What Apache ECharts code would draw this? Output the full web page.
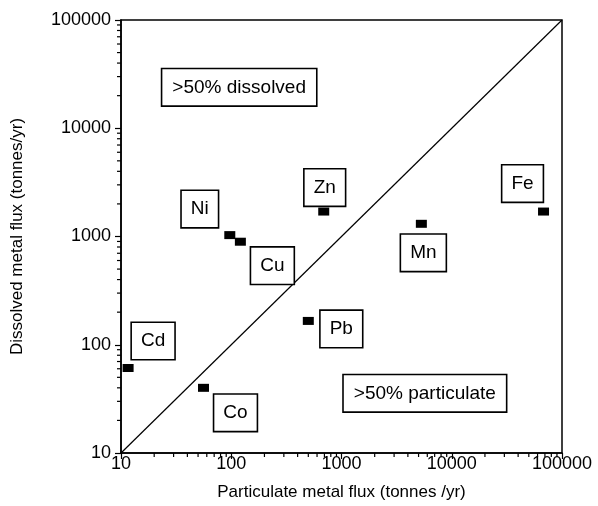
<!DOCTYPE html>
<html>
<head>
<meta charset="utf-8">
<script src="https://cdn.jsdelivr.net/npm/echarts@6/dist/echarts.min.js"></script>
<style>html,body{margin:0;padding:0;background:#fff}#c{width:598px;height:506px}</style>
</head>
<body>
<div id="c"></div>
<script>
// ---- data ----
const metals = ['Cd', 'Co', 'Ni', 'Cu', 'Zn', 'Pb', 'Mn', 'Fe'];
const particulateFlux = [11.6, 56, 97, 121, 690, 500, 5300, 68000];
const dissolvedFlux = [61, 40, 1030, 895, 1700, 166, 1310, 1700];
const xTicks = [10, 100, 1000, 10000, 100000];
const yTicks = [10, 100, 1000, 10000, 100000];
const regionTexts = ['>50% dissolved', '>50% particulate'];
const regionX = [118, 5700];
const regionY = [23900, 35.6];
const oneToOne = [10, 100000];

// ---- layout / style ----
const labelOffsets = {
  Cd: [25, -27], Co: [32, 25], Ni: [-30, -26], Cu: [32, 24],
  Zn: [1, -24], Pb: [33, 8], Mn: [2, 29], Fe: [-21, -28]
};
const FONT = 'Liberation Sans, Arial, Helvetica, sans-serif';
const boxLabel = {
  show: true, position: 'inside', color: '#000', fontFamily: FONT, fontSize: 19,
  backgroundColor: '#fff', borderColor: '#000', borderWidth: 1.6,
  padding: [9, 9, 8, 9], lineHeight: 19,
  formatter: p => p.name
};

const pointData = metals.map((m, i) => ({
  name: m, value: [particulateFlux[i], dissolvedFlux[i]],
  label: { offset: labelOffsets[m] }
}));
const regionData = regionTexts.map((t, i) => ({ name: t, value: [regionX[i], regionY[i]] }));

const minorVals = [];
for (let d = 0; d < xTicks.length - 1; d++) {
  for (let k = 2; k <= 9; k++) minorVals.push(xTicks[d] * k);
}

const chart = echarts.init(document.getElementById('c'), null, { renderer: 'canvas' });
const axisCommon = {
  type: 'log', logBase: 10, min: 10, max: 100000,
  axisLine: { show: true, lineStyle: { color: '#000', width: 1.5 } },
  axisTick: { show: true, inside: false, length: 6, lineStyle: { color: '#000', width: 1.2 } },
  splitLine: { show: false },
  axisLabel: { color: '#000', fontFamily: FONT, fontSize: 18, formatter: v => String(Math.round(v)) },
  nameLocation: 'middle',
  nameTextStyle: { color: '#000', fontFamily: FONT, fontSize: 17 }
};
chart.setOption({
  animation: false,
  backgroundColor: '#fff',
  grid: { left: 121, right: 36, top: 20, bottom: 51, show: true, borderColor: '#000', borderWidth: 1.5, backgroundColor: 'transparent' },
  xAxis: Object.assign({}, axisCommon, {
    name: 'Particulate metal flux (tonnes /yr)', nameGap: 31,
    axisLabel: Object.assign({}, axisCommon.axisLabel, { margin: 2 })
  }),
  yAxis: Object.assign({}, axisCommon, {
    name: 'Dissolved metal flux (tonnes/yr)', nameGap: 95,
    axisLabel: Object.assign({}, axisCommon.axisLabel, { margin: 10 })
  }),
  series: [
    {
      type: 'line', data: [[oneToOne[0], oneToOne[0]], [oneToOne[1], oneToOne[1]]],
      symbol: 'none', lineStyle: { color: '#000', width: 1.2 }, silent: true, z: 1
    },
    {
      type: 'custom', clip: false, silent: true, data: [[10, 10]], z: 3,
      renderItem: function (params, api) {
        const origin = api.coord([10, 10]);
        const children = [];
        minorVals.forEach(v => {
          const px = api.coord([v, 10])[0];
          children.push({ type: 'line', shape: { x1: px, y1: origin[1], x2: px, y2: origin[1] + 4 }, style: { stroke: '#000', lineWidth: 1.2 } });
          const py = api.coord([10, v])[1];
          children.push({ type: 'line', shape: { x1: origin[0] - 4, y1: py, x2: origin[0], y2: py }, style: { stroke: '#000', lineWidth: 1.2 } });
        });
        return { type: 'group', children: children };
      }
    },
    {
      type: 'scatter', data: pointData, symbol: 'rect', symbolSize: [11, 8],
      itemStyle: { color: '#000', opacity: 1 }, label: boxLabel, z: 5
    },
    {
      type: 'scatter', data: regionData, symbolSize: 0, itemStyle: { opacity: 1 },
      label: Object.assign({}, boxLabel, { fontSize: 19, padding: [9, 10, 8, 10] }), z: 5
    }
  ]
});
</script>
</body>
</html>
